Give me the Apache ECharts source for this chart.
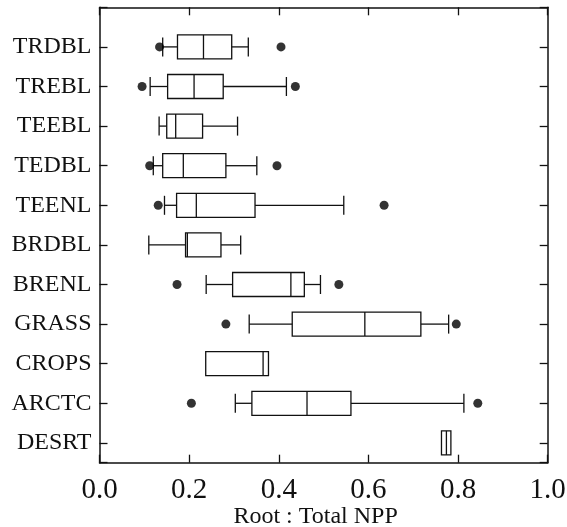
<!DOCTYPE html>
<html>
<head>
<meta charset="utf-8">
<style>
  html, body { margin: 0; padding: 0; background: #fff; }
  #chart { width: 567px; height: 527px; }
</style>
<script src="https://cdn.jsdelivr.net/npm/echarts@6/dist/echarts.min.js"></script>
</head>
<body>
<div id="chart"></div>
<script>
// biome names, top to bottom
var categories = ['TRDBL', 'TREBL', 'TEEBL', 'TEDBL', 'TEENL', 'BRDBL', 'BRENL', 'GRASS', 'CROPS', 'ARCTC', 'DESRT'];

// box statistics (Root : Total NPP), same order as categories
var lowWhisker    = [0.141, 0.113, 0.133, 0.120, 0.145, 0.110, 0.238, 0.334, 0.237, 0.303, 0.763];
var lowerQuartile = [0.174, 0.152, 0.150, 0.141, 0.172, 0.192, 0.297, 0.430, 0.237, 0.340, 0.763];
var medians       = [0.232, 0.211, 0.170, 0.187, 0.216, 0.196, 0.427, 0.592, 0.365, 0.463, 0.774];
var upperQuartile = [0.295, 0.276, 0.230, 0.282, 0.347, 0.271, 0.457, 0.717, 0.377, 0.561, 0.784];
var highWhisker   = [0.332, 0.417, 0.308, 0.351, 0.545, 0.315, 0.493, 0.779, 0.377, 0.813, 0.784];

// outliers (null = none)
var lowOutliers  = [0.134, 0.095, null, 0.112, 0.131, null, 0.173, 0.282, null, 0.205, null];
var highOutliers = [0.405, 0.437, null, 0.396, 0.635, null, 0.534, 0.796, null, 0.844, null];

var boxData = categories.map(function (c, i) {
  return [i, lowWhisker[i], lowerQuartile[i], medians[i], upperQuartile[i], highWhisker[i]];
});
var outlierData = [];
categories.forEach(function (c, i) {
  if (lowOutliers[i] != null) outlierData.push([lowOutliers[i], i]);
  if (highOutliers[i] != null) outlierData.push([highOutliers[i], i]);
});

var ink = '#111';
var serif = 'Liberation Serif';

function renderBox(params, api) {
  var i = api.value(0);
  var lo = api.coord([api.value(1), i]);
  var q1 = api.coord([api.value(2), i]);
  var md = api.coord([api.value(3), i]);
  var q3 = api.coord([api.value(4), i]);
  var hi = api.coord([api.value(5), i]);
  var y = md[1];
  var halfBox = 12, halfCap = 9.5;
  var style = { stroke: ink, fill: null, lineWidth: 1.3 };
  var kids = [
    { type: 'rect', shape: { x: q1[0], y: y - halfBox, width: q3[0] - q1[0], height: halfBox * 2 }, style: { stroke: ink, fill: '#fff', lineWidth: 1.3 } },
    { type: 'line', shape: { x1: md[0], y1: y - halfBox, x2: md[0], y2: y + halfBox }, style: style }
  ];
  // whiskers only where they reach beyond the box
  if (lo[0] < q1[0] - 0.5) {
    kids.push({ type: 'line', shape: { x1: lo[0], y1: y, x2: q1[0], y2: y }, style: style });
    kids.push({ type: 'line', shape: { x1: lo[0], y1: y - halfCap, x2: lo[0], y2: y + halfCap }, style: style });
  }
  if (hi[0] > q3[0] + 0.5) {
    kids.push({ type: 'line', shape: { x1: q3[0], y1: y, x2: hi[0], y2: y }, style: style });
    kids.push({ type: 'line', shape: { x1: hi[0], y1: y - halfCap, x2: hi[0], y2: y + halfCap }, style: style });
  }
  return { type: 'group', children: kids };
}

function xAxisCfg(pos, showLabel) {
  return {
    type: 'value',
    position: pos,
    min: 0,
    max: 1,
    interval: 0.2,
    axisLine: { show: true, onZero: false, lineStyle: { color: ink, width: 1.5 } },
    axisTick: { show: true, inside: true, length: 8, lineStyle: { color: ink, width: 1.3 } },
    splitLine: { show: false },
    axisLabel: {
      show: showLabel,
      margin: 13,
      color: ink,
      fontFamily: serif,
      fontSize: 29,
      formatter: function (v) { return v.toFixed(1); }
    },
    name: showLabel ? 'Root : Total NPP' : '',
    nameLocation: 'middle',
    nameMoveOverlap: false,
    nameGap: 42,
    nameTextStyle: { color: ink, fontFamily: serif, fontSize: 24, padding: [0, 16, 0, 0] }
  };
}

function yAxisCfg(pos, showLabel) {
  return {
    type: 'value',
    position: pos,
    inverse: true,
    min: -1,
    max: 10.5,
    interval: 1,
    axisLine: { show: true, onZero: false, lineStyle: { color: ink, width: 1.5 } },
    axisTick: { show: true, inside: true, length: 8, lineStyle: { color: ink, width: 1.3 } },
    splitLine: { show: false },
    axisLabel: {
      show: showLabel,
      margin: 8,
      color: ink,
      fontFamily: serif,
      fontSize: 24,
      formatter: function (v) { return categories[v] || ''; }
    }
  };
}

var chart = echarts.init(document.getElementById('chart'), null, { renderer: 'canvas' });
chart.setOption({
  animation: false,
  backgroundColor: '#fff',
  grid: { left: 99.5, right: 19.3, top: 7.3, bottom: 64.3, containLabel: false, outerBoundsMode: 'none' },
  xAxis: [xAxisCfg('bottom', true), xAxisCfg('top', false)],
  yAxis: [yAxisCfg('left', true), yAxisCfg('right', false)],
  series: [
    {
      type: 'custom',
      xAxisIndex: 0,
      yAxisIndex: 0,
      renderItem: renderBox,
      encode: { x: [1, 2, 3, 4, 5], y: 0 },
      data: boxData,
      z: 2
    },
    {
      type: 'scatter',
      xAxisIndex: 0,
      yAxisIndex: 0,
      symbol: 'circle',
      symbolSize: 9,
      itemStyle: { color: '#000' },
      data: outlierData,
      z: 3
    }
  ]
});
</script>
</body>
</html>
